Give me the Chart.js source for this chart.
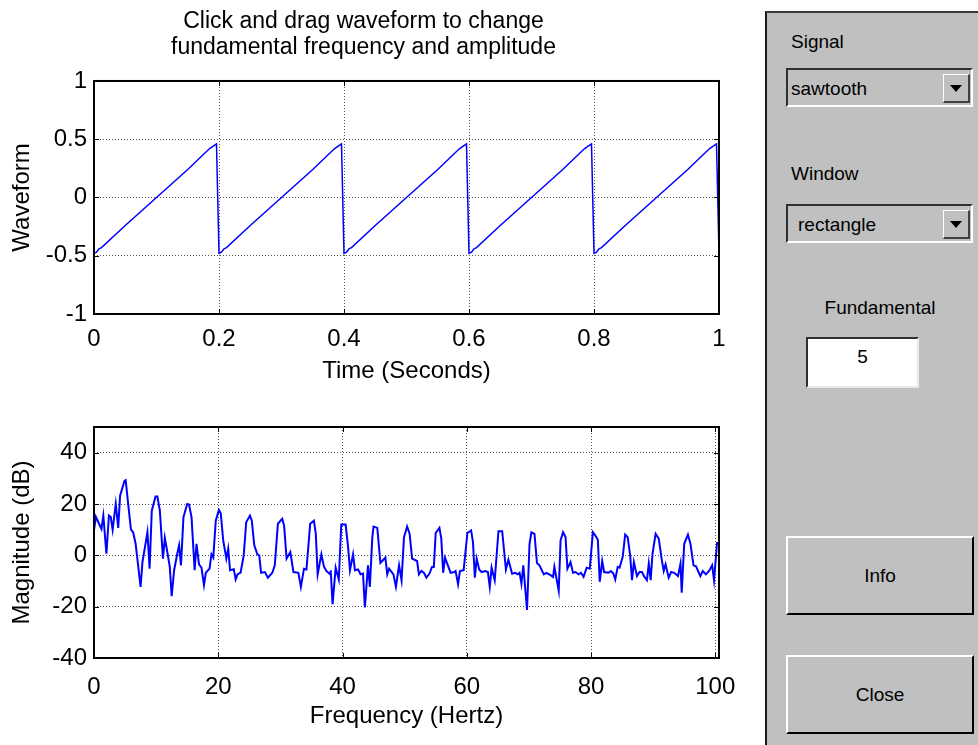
<!DOCTYPE html>
<html>
<head>
<meta charset="utf-8">
<script src="https://cdn.jsdelivr.net/npm/chart.js@4"></script>
<style>
  html, body { margin: 0; padding: 0; background: #fff; overflow: hidden; }
  body { font-family: Arial, "Liberation Sans", sans-serif; color: #000; }
  #wave { position: absolute; left: 0; top: 0; }
  #spec { position: absolute; left: 0; top: 400px; }
  .panel {
    position: absolute; left: 765px; top: 11px; width: 213px; height: 734px;
    background: #c0c0c0; border-left: 2px solid #1a1a1a; border-top: 2px solid #3c3c3c;
  }
  .lbl { position: absolute; font-size: 19px; line-height: 22px; }
  .combo {
    position: absolute; left: 786px; width: 187px; height: 39px; box-sizing: border-box;
    background: #c0c0c0; border-top: 2px solid #303030; border-left: 2px solid #303030;
    border-bottom: 2px solid #fff; border-right: 2px solid #fff;
    font-size: 19px; line-height: 37px;
  }
  .arrow {
    position: absolute; right: 1px; top: 4px; width: 27px; height: 29px; box-sizing: border-box;
    background: #c0c0c0; border-top: 1px solid #fff; border-left: 1px solid #fff;
    border-bottom: 2px solid #404040; border-right: 2px solid #404040;
  }
  .arrow::after {
    content: ""; position: absolute; left: 6px; top: 10px; width: 0; height: 0;
    border-left: 6px solid transparent; border-right: 6px solid transparent; border-top: 7px solid #000;
  }
  .edit {
    position: absolute; left: 806px; top: 337px; width: 113px; height: 51px; box-sizing: border-box;
    background: #fff; border-top: 2px solid #303030; border-left: 2px solid #303030;
    border-bottom: 2px solid #e8e8e8; border-right: 2px solid #e8e8e8;
    font-size: 19px; line-height: 36px; text-align: center;
  }
  .btn {
    position: absolute; left: 786px; width: 188px; height: 79px; box-sizing: border-box;
    background: #c0c0c0; border-top: 2px solid #fff; border-left: 2px solid #fff;
    border-bottom: 2px solid #000; border-right: 2px solid #000;
    font-size: 19px; line-height: 75px; text-align: center;
  }
</style>
</head>
<body>
<canvas id="wave" width="740" height="400"></canvas>
<canvas id="spec" width="740" height="345"></canvas>

<div class="panel"></div>
<div class="lbl" style="left:791px; top:31px;">Signal</div>
<div class="combo" style="top:68px; padding-left:3px;">sawtooth<div class="arrow"></div></div>
<div class="lbl" style="left:791px; top:163px;">Window</div>
<div class="combo" style="top:204px; padding-left:10px;">rectangle<div class="arrow"></div></div>
<div class="lbl" style="left:820px; width:120px; text-align:center; top:297px;">Fundamental</div>
<div class="edit">5</div>
<div class="btn" style="top:536px;">Info</div>
<div class="btn" style="top:655px;">Close</div>

<script>
// sawtooth, 5 Hz, one second
const sawTime = [
  0.000, 0.004, 0.008, 0.012, 0.050, 0.100, 0.150, 0.185, 0.196,
  0.200, 0.204, 0.208, 0.212, 0.250, 0.300, 0.350, 0.385, 0.396,
  0.400, 0.404, 0.408, 0.412, 0.450, 0.500, 0.550, 0.585, 0.596,
  0.600, 0.604, 0.608, 0.612, 0.650, 0.700, 0.750, 0.785, 0.796,
  0.800, 0.804, 0.808, 0.812, 0.850, 0.900, 0.950, 0.985, 0.996,
  1.000
];
const sawValue = [
  -0.48, -0.47, -0.44, -0.43, -0.24, 0.00, 0.24, 0.42, 0.46,
  -0.48, -0.47, -0.44, -0.43, -0.24, 0.00, 0.24, 0.42, 0.46,
  -0.48, -0.47, -0.44, -0.43, -0.24, 0.00, 0.24, 0.42, 0.46,
  -0.48, -0.47, -0.44, -0.43, -0.24, 0.00, 0.24, 0.42, 0.46,
  -0.48, -0.47, -0.44, -0.43, -0.24, 0.00, 0.24, 0.42, 0.46,
  -0.48
];

// magnitude spectrum (dB)
const specFreq = [
  0.0, 0.3, 1.2, 1.5, 2.0, 2.4, 2.7, 3.0, 3.5, 3.9, 4.2, 4.9, 5.1, 5.5, 5.95, 6.3, 6.7, 7.5, 7.8, 8.6,
  8.95, 9.3, 9.9, 10.2, 10.6, 11.1, 11.4, 11.8, 12.2, 12.5, 12.9, 13.4, 13.7, 14.0, 14.4, 15.0, 15.3, 15.7, 16.2, 16.5,
  16.9, 17.3, 17.7, 18.0, 18.6, 18.9, 19.2, 19.6, 20.1, 20.4, 20.8, 21.3, 21.6, 21.9, 22.5, 22.8, 23.1, 23.6, 24.1, 24.5,
  25.1, 25.4, 25.8, 26.3, 26.6, 26.9, 27.5, 28.0, 28.7, 29.1, 29.6, 30.3, 30.6, 31.0, 31.6, 32.1, 32.9, 33.3, 33.8, 34.2,
  34.8, 35.4, 35.7, 36.0, 36.6, 37.0, 37.4, 38.0, 38.1, 38.4, 38.9, 39.4, 39.8, 40.5, 40.9, 41.2, 41.7, 42.0, 42.5, 42.9,
  43.3, 43.6, 44.1, 44.4, 44.8, 45.0, 45.6, 46.1, 46.9, 47.2, 47.5, 48.2, 48.6, 49.1, 49.5, 49.9, 50.4, 50.8, 51.2, 52.0,
  52.3, 52.7, 53.1, 53.5, 54.0, 54.4, 54.7, 55.0, 55.6, 55.9, 56.2, 56.5, 56.9, 57.4, 58.0, 58.2, 58.6, 58.9, 59.5, 60.1,
  60.7, 61.0, 61.3, 61.6, 62.0, 62.4, 63.0, 63.4, 63.7, 64.0, 64.5, 65.1, 65.7, 66.3, 66.7, 67.3, 67.8, 68.2, 68.5, 68.8,
  69.1, 69.7, 70.1, 70.4, 70.9, 71.3, 71.7, 72.4, 72.8, 73.3, 73.9, 74.1, 74.8, 75.1, 75.5, 75.9, 76.2, 76.7, 77.1, 77.5,
  78.0, 78.4, 78.8, 79.3, 79.8, 80.3, 80.7, 81.1, 81.4, 81.8, 82.1, 82.8, 83.2, 83.6, 83.9, 84.3, 84.6, 85.1, 85.5, 85.9,
  86.3, 86.6, 86.9, 87.4, 87.8, 88.2, 88.6, 89.0, 89.3, 89.6, 89.9, 90.4, 90.9, 91.4, 91.7, 92.0, 92.5, 92.9, 93.4, 94.0,
  94.4, 94.6, 95.0, 95.6, 96.0, 96.5, 96.9, 97.3, 97.6, 98.0, 98.5, 99.0, 99.5, 99.8, 100.3
];
const specMag = [
  9.7, 15.0, 10.3, 15.5, 0.6, 15.5, 14.9, 10.0, 20.0, 10.7, 23.2, 29.0, 29.3, 20.0, 10.0, 9.0, 4.5, -12.3, -2.6, 9.0,
  -5.2, 17.4, 22.9, 22.9, 17.4, -1.3, 6.8, 1.3, -4.5, -15.9, -5.8, 0.6, 3.9, -3.9, 14.9, 20.0, 19.8, 14.9, -5.8, 4.5,
  -3.5, -4.8, -11.6, -6.8, -5.2, 0.4, -0.9, 13.5, 17.7, 16.4, 5.8, -1.3, 2.6, -5.8, -5.4, -9.4, -7.4, -6.7, 0.0, 12.9,
  15.5, 13.5, 3.9, 0.4, 0.0, -6.8, -6.5, -8.7, -6.8, -3.9, 12.3, 14.2, 11.6, -1.3, 1.3, -6.5, -6.8, -12.3, -5.2, -5.5,
  12.3, 13.5, 8.4, -7.4, 0.4, -4.3, -6.1, -7.4, -5.8, -19.0, -4.8, -9.4, 12.0, 12.0, 3.2, -5.8, 0.4, -5.8, -5.5, -7.4,
  -7.1, -20.3, -3.9, -12.3, 7.1, 11.2, 10.7, -3.0, -0.9, -7.4, -5.2, -7.4, -12.3, -3.9, -9.7, 7.1, 11.2, 8.4, -1.3, -2.2,
  -7.4, -6.1, -6.8, -8.7, -7.1, -4.5, -4.5, 8.7, 10.7, 6.5, -6.8, -0.9, -3.5, -6.8, -6.5, -6.1, -11.2, -6.1, -5.8, 8.7,
  9.7, 5.2, -8.7, -1.3, -5.5, -6.5, -6.1, -6.5, -12.3, -4.8, -9.7, 9.4, 9.4, -5.5, -1.7, -7.2, -6.8, -7.4, -6.8, -11.0,
  -3.9, -21.3, 4.3, 9.0, 8.4, -3.0, -3.9, -7.4, -6.8, -7.4, -8.4, -4.5, -13.8, 5.8, 9.0, 7.1, -5.2, -2.6, -6.8, -6.5,
  -7.4, -6.8, -8.4, -4.8, -5.2, 9.0, 7.7, 6.1, -10.3, -2.2, -6.5, -6.8, -6.1, -7.1, -9.4, -4.5, -4.8, -0.6, 8.1, 7.1,
  0.0, -9.7, -2.6, -8.1, -6.5, -6.5, -8.4, -9.7, -3.2, -9.7, 0.6, 8.4, 6.5, -1.9, -6.1, -3.5, -8.7, -6.5, -6.8, -8.1,
  -3.2, -14.6, 4.5, 8.1, 4.5, -3.9, -4.3, -6.5, -8.1, -6.1, -7.4, -6.1, -3.9, -9.7, 5.2
];

const titleLines = ['Click and drag waveform to change', 'fundamental frequency and amplitude'];

Chart.defaults.font.family = 'Arial, "Liberation Sans", sans-serif';
Chart.defaults.font.size = 24;
Chart.defaults.color = '#000';

// box around the axes plus small inward ticks on all four sides
const axesFrame = {
  id: 'axesFrame',
  afterDraw(chart) {
    const { ctx, chartArea: a, scales: { x, y } } = chart;
    ctx.save();
    ctx.strokeStyle = '#000';
    ctx.lineWidth = 1;
    ctx.beginPath();
    x.ticks.forEach(t => {
      const px = Math.round(x.getPixelForValue(t.value)) + 0.5;
      ctx.moveTo(px, a.top); ctx.lineTo(px, a.top + 5);
      ctx.moveTo(px, a.bottom); ctx.lineTo(px, a.bottom - 5);
    });
    y.ticks.forEach(t => {
      const py = Math.round(y.getPixelForValue(t.value)) + 0.5;
      ctx.moveTo(a.left, py); ctx.lineTo(a.left + 5, py);
      ctx.moveTo(a.right, py); ctx.lineTo(a.right - 5, py);
    });
    ctx.stroke();
    ctx.lineWidth = 2;
    ctx.strokeRect(a.left, a.top, a.right - a.left, a.bottom - a.top);
    ctx.restore();
  }
};

function axisOpts(min, max, step, title, tickPad, titlePad, size, isY) {
  return {
    type: 'linear',
    min: min, max: max,
    grid: { color: '#555', lineWidth: 1, drawTicks: false },
    border: { display: false, dash: [1, 2] },
    ticks: {
      stepSize: step, includeBounds: false, padding: tickPad,
      callback: v => String(+v.toFixed(4))
    },
    title: {
      display: true, text: title,
      padding: isY ? { top: titlePad, bottom: 0 } : { top: 0, bottom: titlePad }
    },
    afterFit(scale) {
      // fixed axis band; labels may overhang the plot edges
      if (isY) {
        scale.width = size;
        scale.paddingTop = 0; scale.paddingBottom = 0;
      } else {
        scale.height = size;
        scale.paddingLeft = 0; scale.paddingRight = 0;
      }
    }
  };
}

new Chart(document.getElementById('wave'), {
  type: 'line',
  data: {
    datasets: [{
      data: sawTime.map((t, i) => ({ x: t, y: sawValue[i] })),
      borderColor: '#0000ff',
      borderWidth: 1.5,
      pointRadius: 0,
      tension: 0
    }]
  },
  options: {
    responsive: false,
    animation: false,
    layout: { padding: { left: 8, right: 21, top: 0, bottom: 0 } },
    plugins: {
      legend: { display: false },
      tooltip: { enabled: false },
      title: {
        display: true, text: titleLines, color: '#000',
        font: { size: 23, weight: 'normal', lineHeight: 1.13 },
        padding: { top: 9, bottom: 20 }
      }
    },
    scales: {
      x: axisOpts(0, 1, 0.2, 'Time (Seconds)', 11, 14, 86, false),
      y: axisOpts(-1, 1, 0.5, 'Waveform', 7, 0, 86, true)
    }
  },
  plugins: [axesFrame]
});

new Chart(document.getElementById('spec'), {
  type: 'line',
  data: {
    datasets: [{
      data: specFreq.map((f, i) => ({ x: f, y: specMag[i] })),
      borderColor: '#0000ff',
      borderWidth: 2,
      pointRadius: 0,
      tension: 0
    }]
  },
  options: {
    responsive: false,
    animation: false,
    layout: { padding: { left: 8, right: 21, top: 27, bottom: 0 } },
    plugins: {
      legend: { display: false },
      tooltip: { enabled: false }
    },
    scales: {
      x: axisOpts(0, 100.6, 20, 'Frequency (Hertz)', 15, 14, 87, false),
      y: axisOpts(-40, 50, 20, 'Magnitude (dB)', 7, 0, 86, true)
    }
  },
  plugins: [axesFrame]
});
</script>
</body>
</html>
